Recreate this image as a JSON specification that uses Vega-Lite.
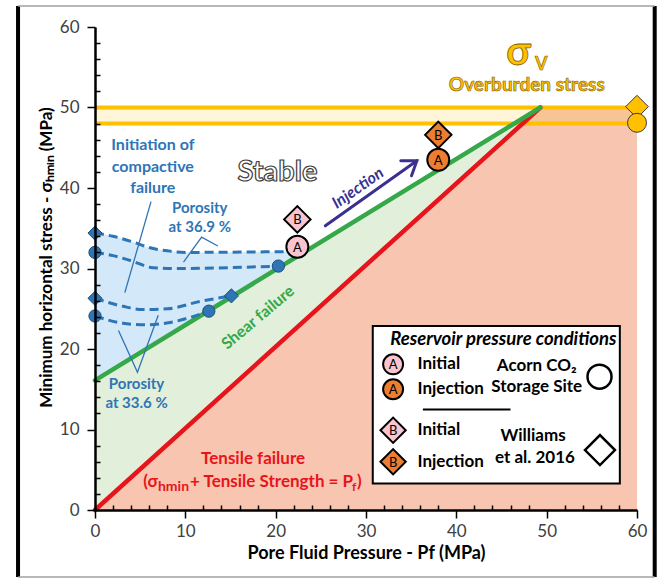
{
  "$schema": "https://vega.github.io/schema/vega-lite/v6.json",
  "width": 542,
  "height": 483,
  "autosize": {"type": "none"},
  "padding": {"left": 95, "top": 27, "right": 24, "bottom": 69},
  "background": "white",
  "config": {"view": {"stroke": null}, "font": "Lato"},
  "encoding": {
    "x": {
      "field": "x", "type": "quantitative",
      "scale": {"domain": [0, 60], "nice": false, "zero": false},
      "axis": {
        "values": [0,2,4,6,8,10,12,14,16,18,20,22,24,26,28,30,32,34,36,38,40,42,44,46,48,50,52,54,56,58,60],
        "labelExpr": "datum.value % 10 === 0 ? datum.label : ''",
        "tickSize": {"condition": {"test": "datum.value % 10 === 0", "value": 8}, "value": -5},
        "tickColor": "black", "tickWidth": 1.5, "domainColor": "black", "domainWidth": 2.5,
        "labelFontSize": 17, "labelColor": "#404040", "labelFont": "Lato", "labelPadding": 5, "labelFlush": false,
        "title": "Pore Fluid Pressure - Pf (MPa)", "titleFontSize": 18, "titleFont": "Lato", "titleFontWeight": "bold", "titleColor": "black",
        "titleX": 271, "titleY": 43, "titleBaseline": "middle", "titleAlign": "center",
        "grid": false, "zindex": 1
      }
    },
    "y": {
      "field": "y", "type": "quantitative",
      "scale": {"domain": [0, 60], "nice": false, "zero": false},
      "axis": {
        "values": [0,2,4,6,8,10,12,14,16,18,20,22,24,26,28,30,32,34,36,38,40,42,44,46,48,50,52,54,56,58,60],
        "labelExpr": "datum.value % 10 === 0 ? datum.label : ''",
        "tickSize": {"condition": {"test": "datum.value % 10 === 0", "value": 8}, "value": -5},
        "tickColor": "black", "tickWidth": 1.5, "domainColor": "black", "domainWidth": 2.5,
        "labelFontSize": 17, "labelColor": "#404040", "labelFont": "Lato", "labelPadding": 8, "labelFlush": false,
        "title": "Minimum horizontal stress - σₕₘᵢₙ (MPa)", "titleFontSize": 17, "titleFont": "Lato", "titleFontWeight": "bold", "titleColor": "black",
        "titleX": -49, "titleY": 230, "titleAngle": 270, "titleBaseline": "middle", "titleAlign": "center",
        "grid": false, "zindex": 1
      }
    }
  },
  "layer": [
    {
      "data": {"values": [{"x": 0, "y": 0}, {"x": 49.3, "y": 50}, {"x": 60, "y": 50}]},
      "mark": {"type": "area", "color": "#f8c5b0"},
      "encoding": {"y2": {"datum": 0}}
    },
    {
      "data": {"values": [{"x": 0, "y": 16.1, "lo": 0}, {"x": 49.3, "y": 50, "lo": 50}]},
      "mark": {"type": "area", "color": "#e2efda"},
      "encoding": {"y2": {"field": "lo"}}
    },
    {
      "data": {"values": [
        {"x": 0, "y": 34.4, "lo": 16.1}, {"x": 2, "y": 34.0, "lo": 17.48}, {"x": 4.2, "y": 33.3, "lo": 18.99},
        {"x": 6, "y": 32.6, "lo": 20.23}, {"x": 8, "y": 32.2, "lo": 21.6}, {"x": 10, "y": 32.0, "lo": 22.98},
        {"x": 22, "y": 32.1, "lo": 31.24}
      ]},
      "mark": {"type": "area", "color": "#d3e8f8", "interpolate": "monotone"},
      "encoding": {"y2": {"field": "lo"}}
    },
    {
      "data": {"values": [{"x": 0, "y": 50, "lo": 48}, {"x": 60, "y": 50, "lo": 48}]},
      "mark": {"type": "area", "color": "#ffc000", "opacity": 0.15},
      "encoding": {"y2": {"field": "lo"}}
    },
    {
      "data": {"values": [{"s": "top", "x": 0, "y": 50}, {"s": "top", "x": 60, "y": 50}, {"s": "bottom", "x": 0, "y": 48}, {"s": "bottom", "x": 60, "y": 48}]},
      "mark": {"type": "line", "color": "#ffc000", "strokeWidth": 4},
      "encoding": {"detail": {"field": "s"}}
    },
    {
      "data": {"values": [{"x": 0, "y": 0}, {"x": 49.3, "y": 50}]},
      "mark": {"type": "line", "color": "#e8141b", "strokeWidth": 4.5, "strokeCap": "round"}
    },
    {
      "data": {"values": [{"x": 0, "y": 16.1}, {"x": 49.3, "y": 50}]},
      "mark": {"type": "line", "color": "#35a84a", "strokeWidth": 4.5, "strokeCap": "round"}
    },
    {
      "data": {"values": [
        {"s": "a", "x": 0, "y": 34.4}, {"s": "a", "x": 2, "y": 34.0}, {"s": "a", "x": 4.2, "y": 33.3}, {"s": "a", "x": 6, "y": 32.6}, {"s": "a", "x": 8, "y": 32.2}, {"s": "a", "x": 10, "y": 32.0}, {"s": "a", "x": 21.5, "y": 32.1},
        {"s": "b", "x": 0, "y": 32.0}, {"s": "b", "x": 2, "y": 31.6}, {"s": "b", "x": 3.9, "y": 31.0}, {"s": "b", "x": 6.4, "y": 30.1}, {"s": "b", "x": 9, "y": 30.0}, {"s": "b", "x": 20.3, "y": 30.3},
        {"s": "c", "x": 0, "y": 26.3}, {"s": "c", "x": 3.1, "y": 25.3}, {"s": "c", "x": 5.3, "y": 24.9}, {"s": "c", "x": 8, "y": 25.0}, {"s": "c", "x": 11.6, "y": 25.9}, {"s": "c", "x": 15.1, "y": 26.6},
        {"s": "d", "x": 0, "y": 24.1}, {"s": "d", "x": 3.1, "y": 23.2}, {"s": "d", "x": 5.7, "y": 23.0}, {"s": "d", "x": 8.3, "y": 23.3}, {"s": "d", "x": 12.6, "y": 24.7}
      ]},
      "mark": {"type": "line", "color": "#2e75b6", "strokeWidth": 3, "strokeDash": [9, 5], "interpolate": "monotone"},
      "encoding": {"detail": {"field": "s"}}
    },
    {
      "data": {"values": [
        {"s": "a", "o": 1, "x": 6.2, "y": 38.3}, {"s": "a", "o": 2, "x": 3.3, "y": 27.0},
        {"s": "b", "o": 1, "x": 9.8, "y": 30.8}, {"s": "b", "o": 2, "x": 11.8, "y": 33.9}, {"s": "b", "o": 3, "x": 13.6, "y": 32.8},
        {"s": "c", "o": 1, "x": 2.6, "y": 22.3}, {"s": "c", "o": 2, "x": 4.7, "y": 17.1}, {"s": "c", "o": 3, "x": 7.0, "y": 24.2}
      ]},
      "mark": {"type": "line", "color": "#2e75b6", "strokeWidth": 1.3},
      "encoding": {"detail": {"field": "s"}, "order": {"field": "o"}}
    },
    {
      "data": {"values": [
        {"s": "shaft", "o": 1, "x": 25.5, "y": 35.3}, {"s": "shaft", "o": 2, "x": 35.63, "y": 43.39},
        {"s": "head", "o": 1, "x": 33.85, "y": 43.38}, {"s": "head", "o": 2, "x": 35.63, "y": 43.39}, {"s": "head", "o": 3, "x": 35.04, "y": 41.52}
      ]},
      "mark": {"type": "line", "color": "#3b2f8f", "strokeWidth": 3, "strokeCap": "round", "strokeJoin": "miter"},
      "encoding": {"detail": {"field": "s"}, "order": {"field": "o"}}
    },
    {
      "data": {"values": [{"x": 0, "y": 32.0}, {"x": 0, "y": 24.1}, {"x": 20.3, "y": 30.3}, {"x": 12.6, "y": 24.7}]},
      "mark": {"type": "point", "shape": "circle", "filled": true, "fill": "#2e75b6", "stroke": "#1f4e79", "strokeWidth": 1, "size": 150, "opacity": 1}
    },
    {
      "data": {"values": [{"x": 0, "y": 34.4}, {"x": 0, "y": 26.3}, {"x": 15.1, "y": 26.6}]},
      "mark": {"type": "point", "shape": "diamond", "filled": true, "fill": "#2e75b6", "stroke": "#1f4e79", "strokeWidth": 1, "size": 200, "opacity": 1}
    },
    {
      "data": {"values": [{"x": 60, "y": 50.1}]},
      "mark": {"type": "point", "shape": "diamond", "filled": true, "fill": "#ffc000", "stroke": "#3a3a3a", "strokeWidth": 1, "size": 520, "opacity": 1}
    },
    {
      "data": {"values": [{"x": 60, "y": 48.1}]},
      "mark": {"type": "point", "shape": "circle", "filled": true, "fill": "#ffc000", "stroke": "#3a3a3a", "strokeWidth": 1, "size": 360, "opacity": 1}
    },
    {
      "data": {"values": [{"x": 22.4, "y": 32.7}]},
      "mark": {"type": "point", "shape": "circle", "filled": true, "fill": "#f9c4cd", "stroke": "black", "strokeWidth": 2, "size": 484, "opacity": 1}
    },
    {
      "data": {"values": [{"x": 38.0, "y": 43.5}]},
      "mark": {"type": "point", "shape": "circle", "filled": true, "fill": "#ed7d31", "stroke": "black", "strokeWidth": 2, "size": 484, "opacity": 1}
    },
    {
      "data": {"values": [{"x": 22.4, "y": 36.1}]},
      "mark": {"type": "point", "shape": "diamond", "filled": true, "fill": "#f9c4cd", "stroke": "black", "strokeWidth": 2, "size": 700, "opacity": 1}
    },
    {
      "data": {"values": [{"x": 38.0, "y": 46.6}]},
      "mark": {"type": "point", "shape": "diamond", "filled": true, "fill": "#ed7d31", "stroke": "black", "strokeWidth": 2, "size": 700, "opacity": 1}
    },
    {
      "data": {"values": [{"x": 30.75, "x2": 58.1, "y": 3.3, "y2": 22.86}]},
      "mark": {"type": "rect", "fill": "white", "stroke": "black", "strokeWidth": 2},
      "encoding": {"x2": {"field": "x2"}, "y2": {"field": "y2"}}
    },
    {
      "data": {"values": [{"x": 36.3, "y": 12.5}, {"x": 46.0, "y": 12.5}]},
      "mark": {"type": "line", "color": "black", "strokeWidth": 2}
    },
    {
      "data": {"values": [{"x": 33.0, "y": 18.1}]},
      "mark": {"type": "point", "shape": "circle", "filled": true, "fill": "#f9c4cd", "stroke": "black", "strokeWidth": 2, "size": 400, "opacity": 1}
    },
    {
      "data": {"values": [{"x": 33.0, "y": 15.0}]},
      "mark": {"type": "point", "shape": "circle", "filled": true, "fill": "#ed7d31", "stroke": "black", "strokeWidth": 2, "size": 400, "opacity": 1}
    },
    {
      "data": {"values": [{"x": 33.0, "y": 9.9}]},
      "mark": {"type": "point", "shape": "diamond", "filled": true, "fill": "#f9c4cd", "stroke": "black", "strokeWidth": 2, "size": 640, "opacity": 1}
    },
    {
      "data": {"values": [{"x": 33.0, "y": 6.0}]},
      "mark": {"type": "point", "shape": "diamond", "filled": true, "fill": "#ed7d31", "stroke": "black", "strokeWidth": 2, "size": 640, "opacity": 1}
    },
    {
      "data": {"values": [{"x": 55.85, "y": 16.56}]},
      "mark": {"type": "point", "shape": "circle", "filled": false, "stroke": "black", "strokeWidth": 2.5, "size": 576, "opacity": 1}
    },
    {
      "data": {"values": [{"x": 55.9, "y": 7.45}]},
      "mark": {"type": "point", "shape": "diamond", "filled": false, "stroke": "black", "strokeWidth": 2.5, "size": 900, "opacity": 1}
    },
    {
      "data": {"values": [
        {"x": 22.4, "y": 32.7, "t": "A"}, {"x": 38.0, "y": 43.5, "t": "A"}, {"x": 22.4, "y": 36.1, "t": "B"}, {"x": 38.0, "y": 46.6, "t": "B"},
        {"x": 33.0, "y": 18.1, "t": "A"}, {"x": 33.0, "y": 15.0, "t": "A"}, {"x": 33.0, "y": 9.9, "t": "B"}, {"x": 33.0, "y": 6.0, "t": "B"}
      ]},
      "mark": {"type": "text", "fontSize": 13, "color": "black", "align": "center", "baseline": "middle", "dy": 1},
      "encoding": {"text": {"field": "t"}}
    },
    {
      "data": {"values": [{"x": 45.2, "y": 21.2, "t": "Reservoir pressure conditions"}]},
      "mark": {"type": "text", "fontSize": 18.5, "fontWeight": "bold", "fontStyle": "italic", "color": "black", "align": "center", "baseline": "middle"},
      "encoding": {"text": {"field": "t"}}
    },
    {
      "data": {"values": [
        {"x": 35.7, "y": 18.1, "t": "Initial"}, {"x": 35.7, "y": 15.0, "t": "Injection"},
        {"x": 35.7, "y": 9.9, "t": "Initial"}, {"x": 35.7, "y": 6.0, "t": "Injection"}
      ]},
      "mark": {"type": "text", "fontSize": 17, "fontWeight": "bold", "color": "black", "align": "left", "baseline": "middle"},
      "encoding": {"text": {"field": "t"}}
    },
    {
      "data": {"values": [
        {"x": 48.9, "y": 17.9, "t": "Acorn CO₂"}, {"x": 48.9, "y": 15.3, "t": "Storage Site"},
        {"x": 48.5, "y": 9.2, "t": "Williams"}, {"x": 48.7, "y": 6.5, "t": "et al. 2016"}
      ]},
      "mark": {"type": "text", "fontSize": 17, "fontWeight": "bold", "color": "black", "align": "center", "baseline": "middle"},
      "encoding": {"text": {"field": "t"}}
    },
    {
      "data": {"values": [
        {"x": 6.4, "y": 45.3, "t": "Initiation of"}, {"x": 6.4, "y": 42.6, "t": "compactive"}, {"x": 6.4, "y": 40.0, "t": "failure"}
      ]},
      "mark": {"type": "text", "fontSize": 16, "fontWeight": "bold", "color": "#2e75b6", "align": "center", "baseline": "middle"},
      "encoding": {"text": {"field": "t"}}
    },
    {
      "data": {"values": [
        {"x": 11.6, "y": 37.5, "t": "Porosity"}, {"x": 11.6, "y": 35.2, "t": "at 36.9 %"},
        {"x": 4.6, "y": 15.7, "t": "Porosity"}, {"x": 4.6, "y": 13.3, "t": "at 33.6 %"}
      ]},
      "mark": {"type": "text", "fontSize": 15, "fontWeight": "bold", "color": "#2e75b6", "align": "center", "baseline": "middle"},
      "encoding": {"text": {"field": "t"}}
    },
    {
      "data": {"values": [{"x": 20.2, "y": 42.0, "t": "Stable"}]},
      "mark": {"type": "text", "fontSize": 29, "fontWeight": "bold", "fill": "white", "stroke": "#404040", "strokeWidth": 1.2, "align": "center", "baseline": "middle"},
      "encoding": {"text": {"field": "t"}}
    },
    {
      "data": {"values": [{"x": 29.1, "y": 40.0, "t": "Injection"}]},
      "mark": {"type": "text", "fontSize": 16, "fontWeight": "bold", "fontStyle": "italic", "color": "#3b2f8f", "align": "center", "baseline": "middle", "angle": 325},
      "encoding": {"text": {"field": "t"}}
    },
    {
      "data": {"values": [{"x": 18.05, "y": 23.9, "t": "Shear failure"}]},
      "mark": {"type": "text", "fontSize": 16, "fontWeight": "bold", "color": "#35a84a", "align": "center", "baseline": "middle", "angle": 320},
      "encoding": {"text": {"field": "t"}}
    },
    {
      "data": {"values": [{"x": 17.5, "y": 6.3, "t": "Tensile failure"}]},
      "mark": {"type": "text", "fontSize": 17, "fontWeight": "bold", "color": "#e8141b", "align": "center", "baseline": "middle"},
      "encoding": {"text": {"field": "t"}}
    },
    {
      "data": {"values": [{"x": 6.97, "y": 3.5, "t": "(σ"}]},
      "mark": {"type": "text", "fontSize": 17, "fontWeight": "bold", "color": "#e8141b", "align": "right", "baseline": "middle"},
      "encoding": {"text": {"field": "t"}}
    },
    {
      "data": {"values": [{"x": 6.97, "y": 3.5, "t": "hmin"}]},
      "mark": {"type": "text", "fontSize": 14, "fontWeight": "bold", "color": "#e8141b", "align": "left", "baseline": "middle", "dy": 5},
      "encoding": {"text": {"field": "t"}}
    },
    {
      "data": {"values": [{"x": 10.52, "y": 3.5, "t": "+ Tensile Strength = P"}]},
      "mark": {"type": "text", "fontSize": 17, "fontWeight": "bold", "color": "#e8141b", "align": "left", "baseline": "middle"},
      "encoding": {"text": {"field": "t"}}
    },
    {
      "data": {"values": [{"x": 28.45, "y": 3.5, "t": "f"}]},
      "mark": {"type": "text", "fontSize": 12, "fontWeight": "bold", "color": "#e8141b", "align": "left", "baseline": "middle", "dy": 5},
      "encoding": {"text": {"field": "t"}}
    },
    {
      "data": {"values": [{"x": 29.0, "y": 3.5, "t": ")"}]},
      "mark": {"type": "text", "fontSize": 17, "fontWeight": "bold", "color": "#e8141b", "align": "left", "baseline": "middle"},
      "encoding": {"text": {"field": "t"}}
    },
    {
      "data": {"values": [{"x": 46.9, "y": 56.8, "t": "σ"}]},
      "mark": {"type": "text", "fontSize": 40, "fontWeight": "bold", "fill": "#ffc000", "stroke": "#7f6000", "strokeWidth": 0.8, "align": "center", "baseline": "middle"},
      "encoding": {"text": {"field": "t"}}
    },
    {
      "data": {"values": [{"x": 49.4, "y": 55.3, "t": "V"}]},
      "mark": {"type": "text", "fontSize": 18, "fontWeight": "bold", "fill": "#ffc000", "stroke": "#7f6000", "strokeWidth": 0.6, "align": "center", "baseline": "middle"},
      "encoding": {"text": {"field": "t"}}
    },
    {
      "data": {"values": [{"x": 47.8, "y": 52.8, "t": "Overburden stress"}]},
      "mark": {"type": "text", "fontSize": 19, "fontWeight": "bold", "fill": "#ffc000", "stroke": "#7f6000", "strokeWidth": 0.6, "align": "center", "baseline": "middle"},
      "encoding": {"text": {"field": "t"}}
    },
    {
      "data": {"values": [{"x": -8.52, "y": -8.32, "y2": 62.6}, {"x": 61.96, "y": -8.32, "y2": 62.6}]},
      "mark": {"type": "rule", "color": "black", "strokeWidth": 4},
      "encoding": {"y2": {"field": "y2"}}
    },
    {
      "data": {"values": [{"x": -8.52, "x2": 61.96, "y": 62.6}, {"x": -8.52, "x2": 61.96, "y": -8.32}]},
      "mark": {"type": "rule", "color": "#a0a0a0", "strokeWidth": 1.5},
      "encoding": {"x2": {"field": "x2"}}
    }
  ]
}
